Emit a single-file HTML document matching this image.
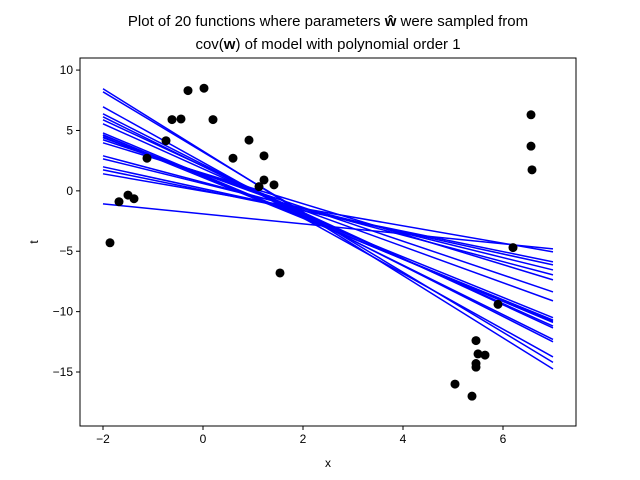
<!DOCTYPE html>
<html><head><meta charset="utf-8"><style>body{margin:0;background:#fff}svg{display:block;font-family:"Liberation Sans","DejaVu Sans",sans-serif}</style></head>
<body>
<svg id="c" width="640" height="480">
<text x="328" y="26" font-size="15" text-anchor="middle">Plot of 20 functions where parameters <tspan font-weight="bold">ŵ</tspan> were sampled from</text>
<text x="328" y="49" font-size="15" text-anchor="middle">cov(<tspan font-weight="bold">w</tspan>) of model with polynomial order 1</text>
<g id="plot"></g>
<text x="328" y="467" font-size="12" text-anchor="middle">x</text>
<text x="34" y="246" font-size="12" text-anchor="middle" transform="rotate(-90 34 242)">t</text>
</svg>
<script>
const lineLeft=[8.45,8.2,6.96,6.38,6.13,5.88,5.55,4.8,4.64,4.6,4.47,4.4,4.23,3.98,2.9,2.65,1.99,1.74,1.41,-1.08];
const lineRight=[-14.75,-14.2,-13.75,-12.5,-12.3,-11.35,-11.2,-10.9,-10.8,-10.5,-10.7,-9.11,-8.37,-7.37,-6.96,-6.55,-6.13,-5.88,-5.05,-4.8];
const lineX=[-2,7];
const ptX=[-1.86,-1.68,-1.5,-1.38,-1.12,-0.74,-0.62,-0.44,-0.3,0.02,0.2,0.6,0.92,1.12,1.22,1.22,1.42,1.54,5.04,5.38,5.46,5.5,5.46,5.46,5.64,5.9,6.2,6.56,6.56,6.58];
const ptY=[-4.3,-0.9,-0.35,-0.65,2.7,4.15,5.9,5.95,8.3,8.5,5.9,2.7,4.2,0.35,2.9,0.9,0.5,-6.8,-16.0,-17.0,-12.4,-13.5,-14.3,-14.6,-13.6,-9.4,-4.7,6.3,3.7,1.74];
const xTicks=[-2,0,2,4,6];
const yTicks=[10,5,0,-5,-10,-15];
const L=80,R=576,T=58,B=426,x0=-2.46,x1=7.46,y0=-19.47,y1=11.0;
const sx=v=>L+(v-x0)/(x1-x0)*(R-L), sy=v=>B-(v-y0)/(y1-y0)*(B-T);
const NS="http://www.w3.org/2000/svg",g=document.getElementById('plot');
function mk(t,a){const e=document.createElementNS(NS,t);for(const k in a)e.setAttribute(k,a[k]);g.appendChild(e);return e;}
for(let i=0;i<lineLeft.length;i++){
 const e=mk('line',{x1:sx(lineX[0]),y1:sy(lineLeft[i]),x2:sx(lineX[1]),y2:sy(lineRight[i]),stroke:'#0000ff','stroke-width':1.5});
 
 
}
for(let i=0;i<ptX.length;i++){
 const e=mk('circle',{cx:sx(ptX[i]),cy:sy(ptY[i]),r:4.5,fill:'#000'});
 
 
}
const fr=mk('rect',{x:L,y:T,width:R-L,height:B-T,fill:'none',stroke:'#000','stroke-width':1});


xTicks.forEach(v=>{const x=sx(v);mk('line',{x1:x,y1:B,x2:x,y2:B+4,stroke:'#000'});
 const t=mk('text',{x:x,y:B+17,'font-size':12,'text-anchor':'middle'});t.textContent=v<0?'−'+(-v):v;
 
 });
yTicks.forEach(v=>{const y=sy(v);mk('line',{x1:L-4,y1:y,x2:L,y2:y,stroke:'#000'});
 const t=mk('text',{x:L-7,y:y+4,'font-size':12,'text-anchor':'end'});t.textContent=v<0?'−'+(-v):v;
 
 });
</script>
</body></html>
